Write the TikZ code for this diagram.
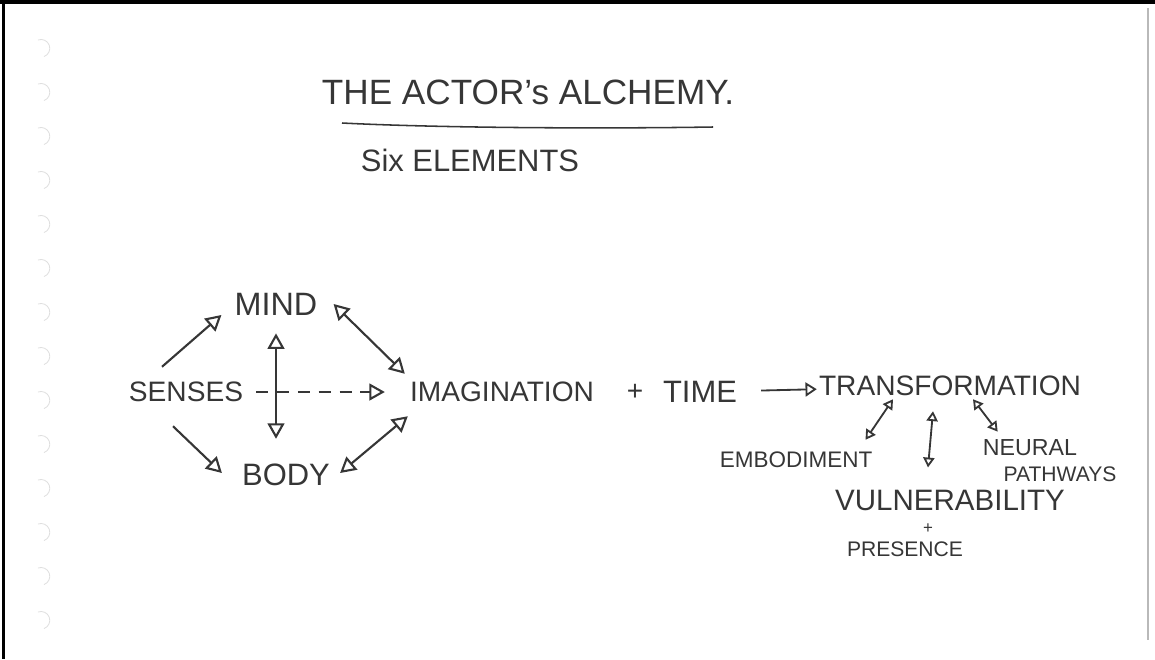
\documentclass[tikz,border=0pt]{standalone}
\usepackage{fontspec}
\setmainfont{Liberation Sans}
\usepackage{tikz}
\usetikzlibrary{arrows.meta, positioning, calc}
\definecolor{ink}{HTML}{363636}

\begin{document}
\begin{tikzpicture}[
  word/.style={font=\fontsize{20}{24}\selectfont, text=ink, inner sep=0pt},
  note/.style={font=\fontsize{15}{18}\selectfont, text=ink, inner sep=0pt},
  link/.style={-{Triangle[open, length=11pt, width=12pt]},
    draw=ink, line width=1.5pt},
  both/.style={{Triangle[open, length=11pt, width=12pt]}-{Triangle[open, length=11pt, width=12pt]},
    draw=ink, line width=1.5pt},
  smalllink/.style={-{Triangle[open, length=8pt, width=10pt]},
    draw=ink, line width=1.3pt},
  smallboth/.style={{Triangle[open, length=7pt, width=8pt]}-{Triangle[open, length=7pt, width=8pt]},
    draw=ink, line width=1.3pt},
  hole/.style={draw=gray!25, line width=0.6pt}
]
\useasboundingbox (0,0) rectangle (28.875,-16.475);

%% ── Page edge and binder holes ──
\draw[black, line width=2.2pt] (0,-0.05) -- (28.875,-0.05);
\draw[black, line width=2.2pt] (0.085,0) -- (0.085,-16.475);
\draw[gray!55, line width=1.4pt] (28.7,-0.2) -- (28.7,-16.0);
\foreach \k in {0,...,13}
  \draw[hole] (0.95,-1.0-1.1*\k) arc (110:-70:0.22);

%% ── Heading ──
\node[word, font=\fontsize{25}{29}\selectfont] (title) at (13.2,-2.3) {THE ACTOR's ALCHEMY.};
\draw[ink, line width=1.1pt] (8.55,-3.075) .. controls (11,-3.2) and (15,-3.22) .. (17.825,-3.175);
\node[word, font=\fontsize{22}{26}\selectfont] (sub) at (11.75,-4.0) {Six ELEMENTS};

%% ── Left cluster ──
\node[word] (senses) at (4.65,-9.8) {SENSES};
\node[word, font=\fontsize{23}{27}\selectfont] (mind) at (6.9,-7.6) {MIND};
\node[word, font=\fontsize{22}{26}\selectfont] (body) at (7.15,-11.875) {BODY};
\node[word] (imag) at (12.55,-9.8) {IMAGINATION};

\draw[link] ([shift={(-0.6,0.375)}]senses.north) -- ([shift={(-0.325,-0.275)}]mind.west);
\draw[link] ([shift={(-0.325,-0.6)}]senses.south) -- ([shift={(-0.5,0.05)}]body.west);
\draw[both, shorten <=0.45cm, shorten >=0.625cm] (mind.south) -- (mind.south |- body.north);
\draw[link, dash pattern=on 0.3cm off 0.22cm, shorten <=0.325cm, shorten >=0.625cm] (senses) -- (imag);
\draw[both] ([shift={(0.4,0)}]mind.east) -- ([shift={(-0.125,0.2)}]imag.north west);
\draw[both] ([shift={(-0.05,-0.35)}]imag.south west) -- ([shift={(0.25,0.05)}]body.east);

%% ── Right cluster ──
\node[word] (plus) at (15.875,-9.8) {+};
\node[word, font=\fontsize{22}{26}\selectfont] (time) at (17.5,-9.8) {TIME};
\node[word] (trans) at (23.75,-9.65) {TRANSFORMATION};

\node[note, font=\fontsize{16}{19}\selectfont] (embod) at (19.9,-11.5) {EMBODIMENT};
\node[note, font=\fontsize{16.5}{19}\selectfont] (neural) at (25.75,-11.2) {NEURAL};
\node[note] (paths) at (26.5,-11.85) {PATHWAYS};
\node[word, font=\fontsize{21}{25}\selectfont] (vuln) at (23.75,-12.5) {VULNERABILITY};
\node[note, font=\fontsize{12}{14}\selectfont] (plustwo) at (23.2,-13.22) {+};
\node[note] (pres) at (22.625,-13.72) {PRESENCE};

\draw[smalllink, shorten <=0.6cm, shorten >=0.05cm] (time) -- (trans);
\draw[smallboth] ([shift={(-1.425,-0.075)}]trans.south) -- ([shift={(-0.175,0.3)}]embod.north east);
\draw[smallboth] ([shift={(-0.425,-0.375)}]trans.south) -- ([shift={(-0.55,0.55)}]vuln.north);
\draw[smallboth] ([shift={(0.575,-0.075)}]trans.south) -- ([shift={(0.375,0.2)}]neural.north west);

\end{tikzpicture}
\end{document}
